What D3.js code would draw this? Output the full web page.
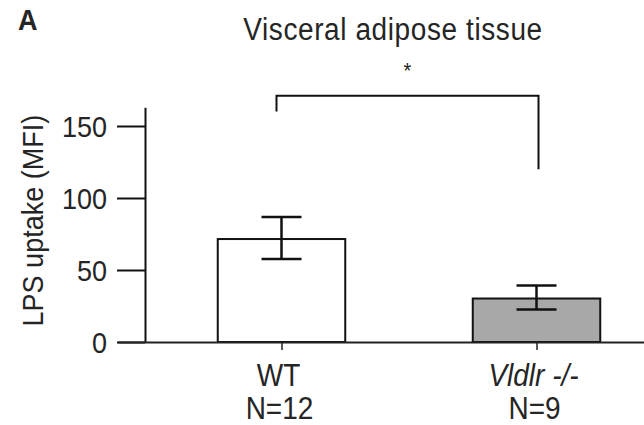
<!DOCTYPE html>
<html>
<head>
<meta charset="utf-8">
<script src="https://cdn.jsdelivr.net/npm/d3@7"></script>
<style>
  body { margin: 0; background: #fff; }
  text { font-family: "Liberation Sans", Arial, sans-serif; fill: #252525; }
</style>
</head>
<body>
<div id="chart"></div>
<script>
// data
var groups = ["WT", "Vldlr -/-"];
var sampleN = ["N=12", "N=9"];
var means = [71.5, 30.2];
var errLow = [57.6, 22.5];
var errHigh = [86.8, 39.2];
var barFill = ["#ffffff", "#a8a8a8"];
var yTicks = [0, 50, 100, 150];
var yTop = 163;
// significance bracket (values in y units)
var bracketTop = 171, bracketLeftEnd = 160, bracketRightEnd = 120;

var W = 644, H = 425;
var stretch = 1.1; // text in the figure is a bit taller than wide

var svg = d3.select("#chart")
  .append("svg")
    .attr("width", W)
    .attr("height", H);

var y = d3.scaleLinear()
    .domain([0, 150])
    .range([342, 126]);

var x = d3.scaleBand()
    .domain(groups)
    .range([154, 664])
    .paddingInner(0.5)
    .paddingOuter(0.25);

var cx = function(d) { return x(d) + x.bandwidth() / 2; };

function place(px, py) {
  return "translate(" + px + "," + py + ") scale(1," + stretch + ")";
}

// panel letter + title
svg.append("text")
    .text("A")
    .attr("transform", place(18, 30))
    .style("font-size", "27px")
    .style("font-weight", "bold");

svg.append("text")
    .text("Visceral adipose tissue")
    .attr("transform", place(393, 40))
    .attr("text-anchor", "middle")
    .style("font-size", "28px")
    .style("letter-spacing", "0.6px");

// y axis
var yAxis = svg.append("g")
    .attr("transform", "translate(145,0)")
    .call(d3.axisLeft(d3.scaleLinear().domain([0, yTop]).range([y(0), y(yTop)]))
      .tickValues(yTicks)
      .tickSize(28)
      .tickSizeOuter(0)
      .tickPadding(10));
yAxis.select(".domain").attr("stroke", "#111").attr("stroke-width", 2);
yAxis.selectAll(".tick line").attr("stroke", "#111").attr("stroke-width", 2);
yAxis.selectAll(".tick text")
    .style("font-size", "27px")
    .style("font-family", "'Liberation Sans', Arial, sans-serif")
    .attr("fill", "#252525")
    .attr("dy", "0.36em")
    .attr("transform", "scale(1," + stretch + ")");

svg.append("text")
    .text("LPS uptake (MFI)")
    .attr("transform", "translate(43," + ((y(0) + y(yTop)) / 2 - 4) + ") rotate(-90) scale(1," + stretch + ")")
    .attr("text-anchor", "middle")
    .style("font-size", "27px");

// bars
svg.selectAll(".bar")
  .data(groups)
  .enter()
  .append("rect")
    .attr("class", "bar")
    .attr("x", function(d) { return x(d); })
    .attr("y", function(d, i) { return y(means[i]); })
    .attr("width", x.bandwidth())
    .attr("height", function(d, i) { return y(0) - y(means[i]); })
    .attr("fill", function(d, i) { return barFill[i]; })
    .attr("stroke", "#111")
    .attr("stroke-width", 2);

// error bars
var eb = svg.selectAll(".err")
  .data(groups)
  .enter()
  .append("g")
    .attr("class", "err")
    .attr("stroke", "#111")
    .attr("stroke-width", 2.5);
eb.append("line")
    .attr("x1", cx).attr("x2", cx)
    .attr("y1", function(d, i) { return y(errLow[i]); })
    .attr("y2", function(d, i) { return y(errHigh[i]); });
eb.append("line")
    .attr("x1", function(d) { return cx(d) - 20; })
    .attr("x2", function(d) { return cx(d) + 20; })
    .attr("y1", function(d, i) { return y(errHigh[i]); })
    .attr("y2", function(d, i) { return y(errHigh[i]); });
eb.append("line")
    .attr("x1", function(d) { return cx(d) - 20; })
    .attr("x2", function(d) { return cx(d) + 20; })
    .attr("y1", function(d, i) { return y(errLow[i]); })
    .attr("y2", function(d, i) { return y(errLow[i]); });

// x axis
var xAxis = svg.append("g")
    .attr("transform", "translate(0," + y(0) + ")")
    .call(d3.axisBottom(d3.scaleLinear().domain([118, 644]).range([118, 644]))
      .tickValues(groups.map(cx))
      .tickSize(8)
      .tickSizeOuter(0)
      .tickFormat(""));
xAxis.select(".domain").attr("stroke", "#222").attr("stroke-width", 2);
xAxis.selectAll(".tick line").attr("stroke", "#222").attr("stroke-width", 1.5);

// group labels
svg.selectAll(".glabel")
  .data(groups)
  .enter()
  .append("text")
    .attr("class", "glabel")
    .attr("transform", function(d) { return place(cx(d) - 3, 386); })
    .attr("text-anchor", "middle")
    .style("font-size", "28px")
    .style("font-style", function(d, i) { return i === 1 ? "italic" : "normal"; })
    .text(function(d) { return d; });

svg.selectAll(".nlabel")
  .data(sampleN)
  .enter()
  .append("text")
    .attr("class", "nlabel")
    .attr("transform", function(d, i) { return place(cx(groups[i]) - 2, 419); })
    .attr("text-anchor", "middle")
    .style("font-size", "28px")
    .text(function(d) { return d; });

// significance bracket
var bx0 = cx(groups[0]) - 5, bx1 = cx(groups[1]) + 2;
svg.append("path")
    .attr("d", d3.line()([
      [bx0, y(bracketLeftEnd)], [bx0, y(bracketTop)],
      [bx1, y(bracketTop)], [bx1, y(bracketRightEnd)]
    ]))
    .attr("fill", "none")
    .attr("stroke", "#111")
    .attr("stroke-width", 2);

svg.append("text")
    .text("*")
    .attr("transform", place((bx0 + bx1) / 2, 78))
    .attr("text-anchor", "middle")
    .style("font-size", "20px");
</script>
</body>
</html>
